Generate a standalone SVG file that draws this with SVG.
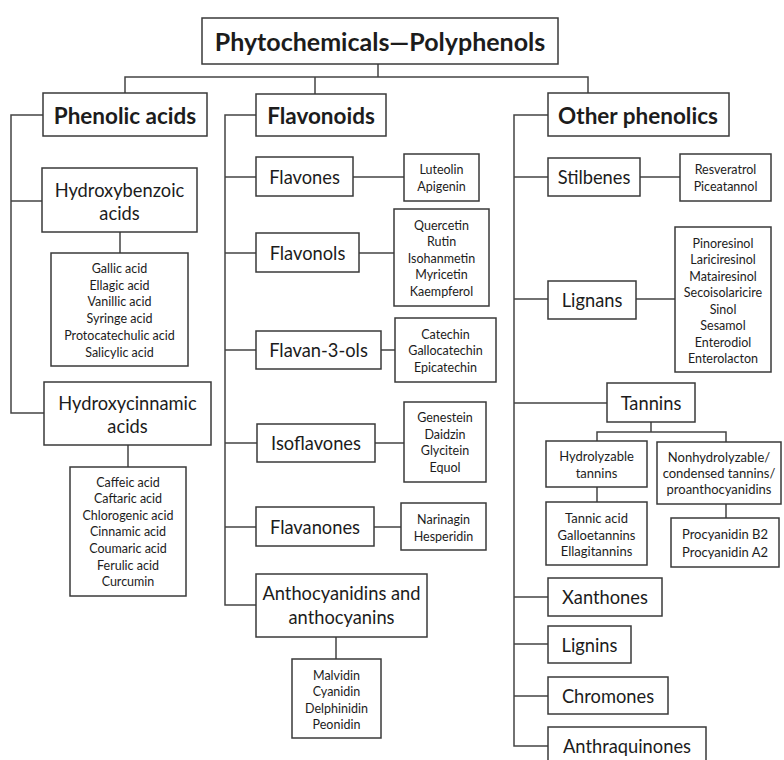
<svg xmlns="http://www.w3.org/2000/svg" width="784" height="760" viewBox="0 0 784 760">
<style>
rect{fill:#fff;stroke:#3a3a3a;stroke-width:1.5}
.c path{fill:none;stroke:#444;stroke-width:1.5}
text{font-family:Lato,"Open Sans","Liberation Sans",sans-serif;fill:#1c1c1c;text-anchor:middle;dominant-baseline:central}
.t{font-size:25px;font-weight:bold}
.h{font-size:22.5px;font-weight:bold}
.n{font-size:18.3px}
.s{font-size:12.5px}
.m{font-size:13px}
</style>
<rect x="0" y="0" width="784" height="760" style="fill:#fff;stroke:none"/>
<g class="c" id="connectors">
<path d="M378 64V77M125 93V77H588V93M315 77V94"/>
<path d="M43 115H11V413H44M11 201H42M120 232V253M128 445V467"/>
<path d="M256 115H225V605H256M225 177H256M353 177H404M225 253H256M359 253H394M225 350H256M381 350H395M225 443H257M375 443H404M225 527H256M374 527H401M336 637V659"/>
<path d="M548 115H514V746H548M514 177H548M640 177H680M514 299H548M636 299H675M514 403H607M651 422V432M597 441V432H726V442M597 487V502M726 504V518M514 597H548M514 644H548M514 696H548"/>
</g>
<g id="root"><rect x="202" y="18" width="356" height="46"/><text class="t" x="380" y="41">Phytochemicals—Polyphenols</text></g>
<g id="phenolic-acids"><rect x="43" y="93" width="164" height="43"/><text class="h" x="125" y="115">Phenolic acids</text></g>
<g id="flavonoids"><rect x="256" y="94" width="130" height="42"/><text class="h" x="321" y="115">Flavonoids</text></g>
<g id="other-phenolics"><rect x="548" y="93" width="181" height="43"/><text class="h" x="638" y="115">Other phenolics</text></g>

<g id="hydroxybenzoic"><rect x="42" y="168" width="155" height="64"/><text class="n" x="119.5" y="190">Hydroxybenzoic</text><text class="n" x="119.5" y="213">acids</text></g>
<g id="hydroxybenzoic-list"><rect x="51" y="253" width="137" height="113"/>
<text class="s" x="119.5" y="268.5">Gallic acid</text><text class="s" x="119.5" y="285.2">Ellagic acid</text><text class="s" x="119.5" y="301.9">Vanillic acid</text><text class="s" x="119.5" y="318.6">Syringe acid</text><text class="s" x="119.5" y="335.3">Protocatechulic acid</text><text class="s" x="119.5" y="352">Salicylic acid</text></g>
<g id="hydroxycinnamic"><rect x="44" y="382" width="167" height="63"/><text class="n" x="127.5" y="403">Hydroxycinnamic</text><text class="n" x="127.5" y="426">acids</text></g>
<g id="hydroxycinnamic-list"><rect x="70" y="467" width="116" height="129"/>
<text class="s" x="128" y="482">Caffeic acid</text><text class="s" x="128" y="498.6">Caftaric acid</text><text class="s" x="128" y="515.2">Chlorogenic acid</text><text class="s" x="128" y="531.8">Cinnamic acid</text><text class="s" x="128" y="548.4">Coumaric acid</text><text class="s" x="128" y="565">Ferulic acid</text><text class="s" x="128" y="581.6">Curcumin</text></g>

<g id="flavones"><rect x="256" y="157" width="97" height="39"/><text class="n" x="304.5" y="176.5">Flavones</text></g>
<g id="flavones-list"><rect x="404" y="154" width="75" height="47"/><text class="s" x="441.5" y="169">Luteolin</text><text class="s" x="441.5" y="186">Apigenin</text></g>
<g id="flavonols"><rect x="256" y="233" width="103" height="39"/><text class="n" x="307.5" y="252.5">Flavonols</text></g>
<g id="flavonols-list"><rect x="394" y="209" width="95" height="97"/><text class="s" x="441.5" y="225">Quercetin</text><text class="s" x="441.5" y="241.5">Rutin</text><text class="s" x="441.5" y="258">Isohanmetin</text><text class="s" x="441.5" y="274.5">Myricetin</text><text class="s" x="441.5" y="291">Kaempferol</text></g>
<g id="flavan-3-ols"><rect x="256" y="331" width="125" height="38"/><text class="n" x="318.5" y="350">Flavan-3-ols</text></g>
<g id="flavan-3-ols-list"><rect x="395" y="318" width="101" height="64"/><text class="s" x="445.5" y="334">Catechin</text><text class="s" x="445.5" y="350.5">Gallocatechin</text><text class="s" x="445.5" y="367">Epicatechin</text></g>
<g id="isoflavones"><rect x="257" y="424" width="118" height="38"/><text class="n" x="316" y="443">Isoflavones</text></g>
<g id="isoflavones-list"><rect x="404" y="402" width="82" height="80"/><text class="s" x="445" y="417">Genestein</text><text class="s" x="445" y="434">Daidzin</text><text class="s" x="445" y="450.5">Glycitein</text><text class="s" x="445" y="467">Equol</text></g>
<g id="flavanones"><rect x="256" y="507" width="118" height="39"/><text class="n" x="315" y="526.5">Flavanones</text></g>
<g id="flavanones-list"><rect x="401" y="503" width="85" height="47"/><text class="s" x="443.5" y="519">Narinagin</text><text class="s" x="443.5" y="536">Hesperidin</text></g>
<g id="anthocyanidins"><rect x="256" y="574" width="171" height="63"/><text class="n" x="341.5" y="593">Anthocyanidins and</text><text class="n" x="341.5" y="617">anthocyanins</text></g>
<g id="anthocyanidins-list"><rect x="292" y="659" width="89" height="79"/><text class="s" x="336.5" y="675">Malvidin</text><text class="s" x="336.5" y="691.5">Cyanidin</text><text class="s" x="336.5" y="708">Delphinidin</text><text class="s" x="336.5" y="724.5">Peonidin</text></g>

<g id="stilbenes"><rect x="548" y="158" width="92" height="38"/><text class="n" x="594" y="177">Stilbenes</text></g>
<g id="stilbenes-list"><rect x="680" y="154" width="91" height="47"/><text class="s" x="725.5" y="169">Resveratrol</text><text class="s" x="725.5" y="186">Piceatannol</text></g>
<g id="lignans"><rect x="548" y="281" width="88" height="38"/><text class="n" x="592" y="300">Lignans</text></g>
<g id="lignans-list"><rect x="675" y="227" width="96" height="145"/><text class="s" x="723" y="243">Pinoresinol</text><text class="s" x="723" y="259.5">Lariciresinol</text><text class="s" x="723" y="276">Matairesinol</text><text class="s" x="723" y="292.5">Secoisolaricire</text><text class="s" x="723" y="309">Sinol</text><text class="s" x="723" y="325.5">Sesamol</text><text class="s" x="723" y="342">Enterodiol</text><text class="s" x="723" y="358.5">Enterolacton</text></g>
<g id="tannins"><rect x="607" y="383" width="88" height="39"/><text class="n" x="651" y="402.5">Tannins</text></g>
<g id="hydrolyzable"><rect x="546" y="441" width="101" height="46"/><text class="m" x="596.5" y="456">Hydrolyzable</text><text class="m" x="596.5" y="473">tannins</text></g>
<g id="nonhydrolyzable"><rect x="657" y="442" width="124" height="62"/><text class="m" x="719" y="457">Nonhydrolyzable/</text><text class="m" x="719" y="473">condensed tannins/</text><text class="m" x="719" y="489">proanthocyanidins</text></g>
<g id="hydrolyzable-list"><rect x="546" y="502" width="101" height="63"/><text class="m" x="596.5" y="518">Tannic acid</text><text class="m" x="596.5" y="534.5">Galloetannins</text><text class="m" x="596.5" y="551">Ellagitannins</text></g>
<g id="nonhydrolyzable-list"><rect x="671" y="518" width="108" height="49"/><text class="m" x="725" y="534">Procyanidin B2</text><text class="m" x="725" y="552">Procyanidin A2</text></g>
<g id="xanthones"><rect x="548" y="578" width="114" height="38"/><text class="n" x="605" y="597">Xanthones</text></g>
<g id="lignins"><rect x="548" y="626" width="83" height="37"/><text class="n" x="589.5" y="644.5">Lignins</text></g>
<g id="chromones"><rect x="548" y="677" width="120" height="37"/><text class="n" x="608" y="695.5">Chromones</text></g>
<g id="anthraquinones"><rect x="548" y="727" width="158" height="40"/><text class="n" x="627" y="746">Anthraquinones</text></g>
</svg>
